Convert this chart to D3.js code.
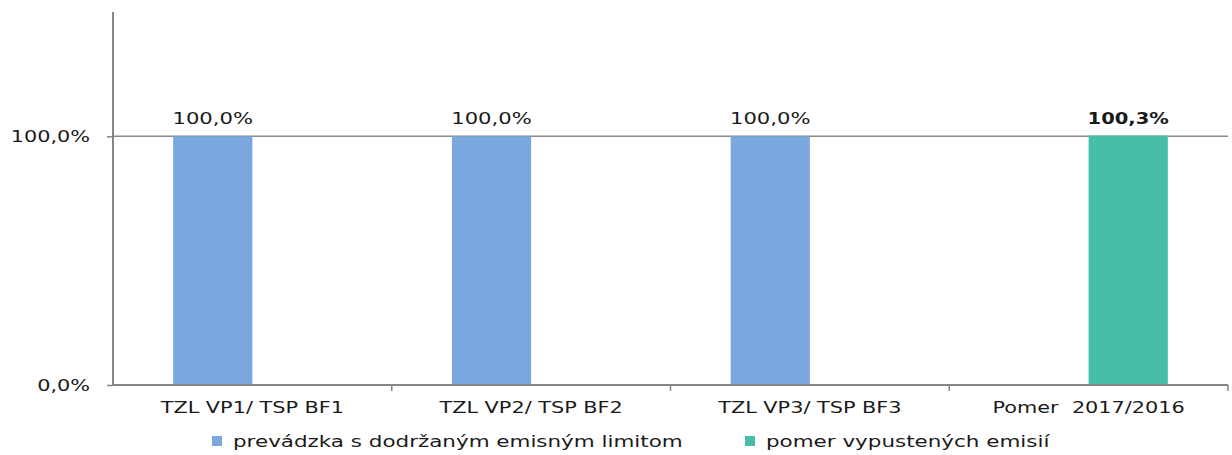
<!DOCTYPE html>
<html>
<head>
<meta charset="utf-8">
<script src="https://cdn.jsdelivr.net/npm/d3@7"></script>
<style>
  body { margin: 0; background: #fff; }
  text { font-family: "DejaVu Sans", Verdana, sans-serif; fill: #1a1a1a; }
</style>
</head>
<body>
<div id="mainContainer"></div>
<script>
var categories = ["TZL VP1/ TSP BF1", "TZL VP2/ TSP BF2", "TZL VP3/ TSP BF3", "Pomer  2017/2016"];
var seriesNames = ["prevádzka s dodržaným emisným limitom", "pomer vypustených emisií"];
var seriesLimit = [1.0, 1.0, 1.0, null];
var seriesRatio = [null, null, null, 1.003];
var yTicks = [0, 1];

var colors = ["#79a7de", "#47bfa8"];

var margin = { top: 12, right: 4, bottom: 70, left: 113 },
    width = 1232 - margin.left - margin.right,
    height = 455 - margin.top - margin.bottom;

var svg = d3.select('#mainContainer').append('svg')
    .attr('width', 1232)
    .attr('height', 455);

var g = svg.append('g')
    .attr('transform', 'translate(' + margin.left + ',' + margin.top + ')');

var fmt = function(v){ return d3.format('.1f')(v * 100).replace('.', ',') + '%'; };

// the source chart has wide, stretched lettering
var stretch = function(sel, k){
    sel.each(function(){
        var l = this.getComputedTextLength();
        d3.select(this).attr('textLength', l * k).attr('lengthAdjust', 'spacingAndGlyphs');
    });
};

var xscale = d3.scaleBand()
    .domain(categories)
    .range([0, width])
    .padding(0);

var inner = d3.scaleBand()
    .domain([0, 1])
    .range([0, xscale.bandwidth()])
    .paddingInner(0)
    .paddingOuter(0.76);

var yscale = d3.scaleLinear()
    .domain([0, 1.5])
    .range([height, 0]);

// gridline at 100 %
g.append('line')
    .attr('x1', 0).attr('x2', width)
    .attr('y1', yscale(1)).attr('y2', yscale(1))
    .attr('stroke', '#8c8c8c')
    .attr('stroke-width', 1.5);

var data = [];
categories.forEach(function(c, i){
    [seriesLimit, seriesRatio].forEach(function(s, j){
        if (s[i] != null) data.push({ cat: c, s: j, v: s[i] });
    });
});

g.append('g').selectAll('rect')
    .data(data)
    .enter()
    .append('rect')
    .attr('x', function(d){ return xscale(d.cat) + inner(d.s); })
    .attr('width', inner.bandwidth())
    .attr('y', function(d){ return yscale(d.v); })
    .attr('height', function(d){ return yscale(0) - yscale(d.v); })
    .attr('fill', function(d){ return colors[d.s]; });

var labels = g.append('g').selectAll('text')
    .data(data)
    .enter()
    .append('text')
    .attr('x', function(d){ return xscale(d.cat) + inner(d.s) + inner.bandwidth() / 2; })
    .attr('y', function(d){ return yscale(d.v) - 12; })
    .attr('text-anchor', 'middle')
    .attr('font-size', '16px')
    .attr('font-weight', function(d){ return d.s === 1 ? 'bold' : 'normal'; })
    .text(function(d){ return fmt(d.v); });
labels.each(function(d){ stretch(d3.select(this), d.s === 1 ? 1.22 : 1.32); });

// y axis
var yAxis = g.append('g')
    .call(d3.axisLeft(yscale).tickValues(yTicks).tickSize(6).tickPadding(17).tickFormat(fmt));
yAxis.select('.domain').attr('stroke', '#868686').attr('stroke-width', 2).attr('d', 'M0,0V' + height);
yAxis.selectAll('.tick line').attr('stroke', '#868686').attr('stroke-width', 1.5);
yAxis.selectAll('.tick text').attr('font-size', '16px').attr('font-family', '"DejaVu Sans", Verdana, sans-serif').attr('fill', '#1a1a1a');
stretch(yAxis.selectAll('.tick text'), 1.3);

// x axis
var xAxis = g.append('g')
    .attr('transform', 'translate(0,' + height + ')')
    .call(d3.axisBottom(xscale).tickSize(0).tickPadding(17));
xAxis.select('.domain').attr('stroke', '#868686').attr('stroke-width', 2).attr('d', 'M0,0H' + width);
xAxis.selectAll('.tick text').attr('font-size', '16px').attr('font-family', '"DejaVu Sans", Verdana, sans-serif').attr('fill', '#1a1a1a')
    .attr('xml:space', 'preserve').style('white-space', 'pre');
stretch(xAxis.selectAll('.tick text'), 1.3);
g.append('g').selectAll('line')
    .data(categories)
    .enter()
    .append('line')
    .attr('x1', function(d){ return xscale(d) + xscale.bandwidth(); })
    .attr('x2', function(d){ return xscale(d) + xscale.bandwidth(); })
    .attr('y1', height).attr('y2', height + 6)
    .attr('stroke', '#868686').attr('stroke-width', 1.5);

// legend
var legendX = [212, 745];
var legend = svg.append('g').selectAll('g')
    .data(seriesNames)
    .enter()
    .append('g')
    .attr('transform', function(d, i){ return 'translate(' + legendX[i] + ',436)'; });
legend.append('rect').attr('width', 10).attr('height', 10).attr('fill', function(d, i){ return colors[i]; });
var legendText = legend.append('text').attr('x', 21).attr('y', 11).attr('font-size', '16px').text(function(d){ return d; });
stretch(legendText, 1.34);
</script>
</body>
</html>
